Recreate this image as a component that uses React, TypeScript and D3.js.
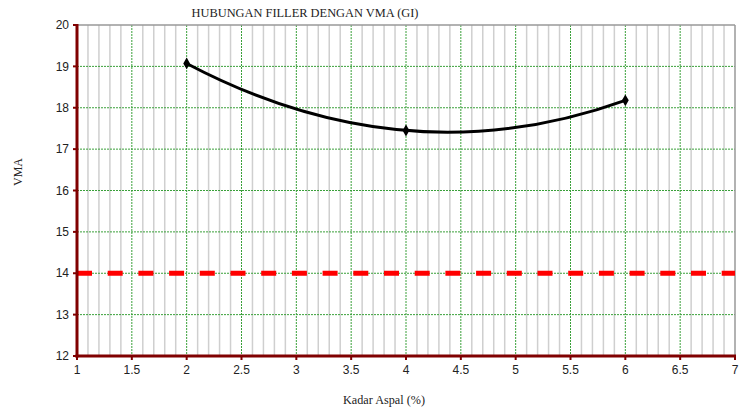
import React from "react";
import * as d3 from "d3";

const xValues = [2, 4, 6];
const vmaValues = [19.07, 17.45, 18.18];
const limitX = [1, 7];
const limitY = [14, 14];
const xTicks = [1, 1.5, 2, 2.5, 3, 3.5, 4, 4.5, 5, 5.5, 6, 6.5, 7];
const yTicks = [12, 13, 14, 15, 16, 17, 18, 19, 20];
const minorX = d3.range(11, 70).map((v) => v / 10).filter((v) => Math.round(v * 10) % 5 !== 0);

const W = 740, H = 410;
const M = { left: 77, right: 5, top: 25, bottom: 54 };

export default function App() {
  const x = d3.scaleLinear().domain([1, 7]).range([M.left, W - M.right]);
  const y = d3.scaleLinear().domain([12, 20]).range([H - M.bottom, M.top]);
  const pts = xValues.map((v, i) => [v, vmaValues[i]] as [number, number]);
  // smooth (parabolic) curve through the three points: quadratic Bezier whose midpoint is the middle point
  const P = pts.map((p) => [x(p[0]), y(p[1])]);
  const cx = 2 * P[1][0] - (P[0][0] + P[2][0]) / 2;
  const cy = 2 * P[1][1] - (P[0][1] + P[2][1]) / 2;
  const cp = d3.path();
  cp.moveTo(P[0][0], P[0][1]);
  cp.quadraticCurveTo(cx, cy, P[2][0], P[2][1]);
  const curve = cp.toString();
  const limit = d3.line<[number, number]>().x((d) => x(d[0])).y((d) => y(d[1]))(limitX.map((v, i) => [v, limitY[i]] as [number, number])) || "";
  const diamond = d3.symbol().type(d3.symbolDiamond).size(40)() || "";
  const x0 = x(1), x1 = x(7), y0 = y(12), y1 = y(20);
  return (
    <svg width={W} height={H} style={{ position: "absolute", left: 0, top: 0, background: "#fff" }}>
      <rect x={0} y={0} width={W} height={H} fill="#fff" />
      {minorX.map((v) => (
        <line key={"m" + v} x1={x(v)} x2={x(v)} y1={y1} y2={y0} stroke="#cfcfcf" strokeWidth={1.5} />
      ))}
      {xTicks.slice(1, -1).map((v) => (
        <line key={"gx" + v} x1={x(v)} x2={x(v)} y1={y1} y2={y0} stroke="#3aa03a" strokeWidth={1} strokeDasharray="2 1" />
      ))}
      {yTicks.slice(1, -1).map((v) => (
        <line key={"gy" + v} x1={x0} x2={x1} y1={y(v)} y2={y(v)} stroke="#3aa03a" strokeWidth={1} strokeDasharray="2 1" />
      ))}
      <line x1={x0} x2={x1} y1={y1} y2={y1} stroke="#999" strokeWidth={1.5} />
      <line x1={x1} x2={x1} y1={y1} y2={y0} stroke="#999" strokeWidth={1.5} />
      <path d={limit} fill="none" stroke="#ff0000" strokeWidth={5} strokeDasharray="15 15.7" />
      <path d={curve} fill="none" stroke="#000" strokeWidth={3} />
      {pts.map((p, i) => (
        <path key={"p" + i} d={diamond} transform={`translate(${x(p[0])},${y(p[1])})`} fill="#000" />
      ))}
      <line x1={x0} x2={x0} y1={y1 - 1} y2={y0 + 1.5} stroke="#800000" strokeWidth={3} />
      <line x1={x0 - 1.5} x2={x1 + 1} y1={y0} y2={y0} stroke="#800000" strokeWidth={3} />
      {yTicks.map((v) => (
        <g key={"yt" + v}>
          <line x1={x0 - 4} x2={x0} y1={y(v)} y2={y(v)} stroke="#800000" strokeWidth={2} />
          <text x={x0 - 8} y={y(v)} dy="0.35em" textAnchor="end" fontFamily="Liberation Sans, Arial, sans-serif" fontSize={12} fill="#222">{v}</text>
        </g>
      ))}
      {xTicks.map((v) => (
        <g key={"xt" + v}>
          <line x1={x(v)} x2={x(v)} y1={y0} y2={y0 + 4} stroke="#800000" strokeWidth={2} />
          <text x={x(v)} y={y0 + 18} textAnchor="middle" fontFamily="Liberation Sans, Arial, sans-serif" fontSize={12} fill="#222">{v}</text>
        </g>
      ))}
      <text x={305} y={17} textAnchor="middle" fontFamily="Liberation Serif, Times New Roman, serif" fontSize={12.4} fill="#222">HUBUNGAN FILLER DENGAN VMA (GI)</text>
      <text transform="translate(22,172) rotate(-90)" textAnchor="middle" fontFamily="Liberation Serif, Times New Roman, serif" fontSize={12} fill="#222">VMA</text>
      <text x={384} y={404} textAnchor="middle" fontFamily="Liberation Serif, Times New Roman, serif" fontSize={12.2} fill="#222">Kadar Aspal (%)</text>
    </svg>
  );
}
